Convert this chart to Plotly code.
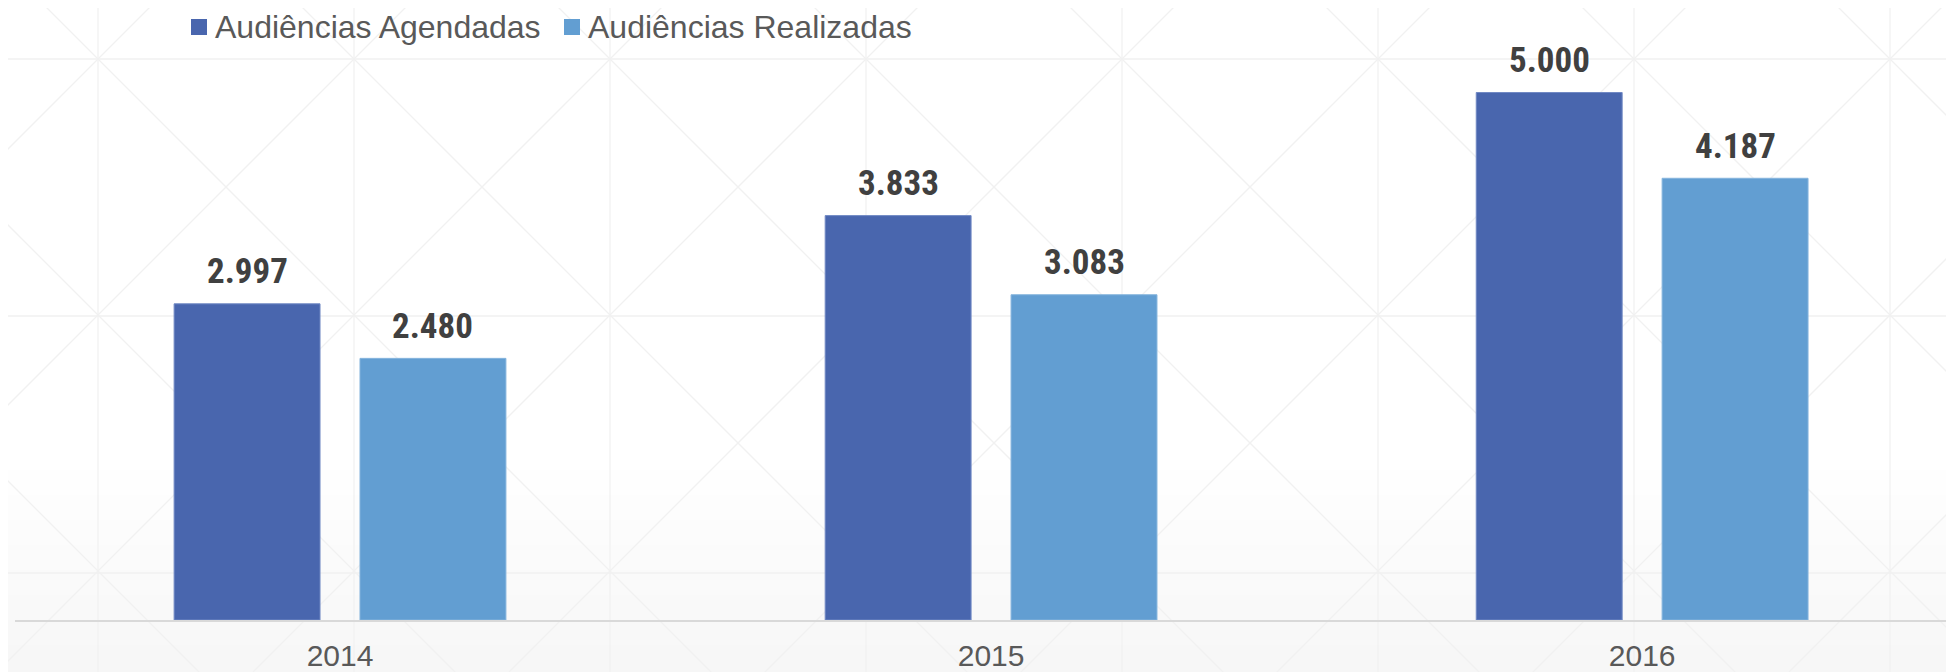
import plotly.graph_objects as go

years = ["2014", "2015", "2016"]
series_names = ["Audiências Agendadas", "Audiências Realizadas"]
agendadas = [2997, 3833, 5000]
realizadas = [2480, 3083, 4187]
labels_agendadas = ["2.997", "3.833", "5.000"]
labels_realizadas = ["2.480", "3.083", "4.187"]

C_AG = "#4966AE"
C_RE = "#629ED2"
OFF = 8                      # default page body margin
SW, SH = 1954, 672           # screen size
W, H = SW - OFF, SH - OFF    # figure size
L, B = 7, 52
PH = H - B                   # plot height (top margin 0)


def px_to_paper_x(sx):
    return (sx - OFF - L) / (W - L)


def px_to_paper_y(sy):
    return (PH - (sy - OFF)) / PH


fig = go.Figure()
fig.add_trace(go.Bar(name=series_names[0], x=years, y=agendadas,
                     marker=dict(color=C_AG, line=dict(color="#7189c4", width=1)),
                     hoverinfo="skip", showlegend=False))
fig.add_trace(go.Bar(name=series_names[1], x=years, y=realizadas,
                     marker=dict(color=C_RE, line=dict(color="#85b4dd", width=1)),
                     hoverinfo="skip", showlegend=False))

# value labels above bars
ann = []
slot = 0.2855
label_font = dict(family="Roboto Condensed, Liberation Sans Narrow, Arial Narrow, Liberation Sans, sans-serif",
                  size=35, color="#404040", weight="bold")
for i, yv in enumerate(years):
    for vals, labs, sgn in ((agendadas, labels_agendadas, -1), (realizadas, labels_realizadas, 1)):
        ann.append(dict(x=i + sgn * slot / 2, y=vals[i], xref="x", yref="y", text=labs[i],
                        showarrow=False, yanchor="middle", yshift=32, font=label_font))

shapes = []
# legend (drawn manually to match the square markers)
leg_items = [(191, 215, C_AG, series_names[0]), (564, 588, C_RE, series_names[1])]
for sx, tx, col, name in leg_items:
    shapes.append(dict(type="rect", xref="paper", yref="paper",
                       x0=px_to_paper_x(sx), x1=px_to_paper_x(sx + 16),
                       y0=px_to_paper_y(35), y1=px_to_paper_y(19),
                       fillcolor=col, line=dict(width=0), layer="above"))
    ann.append(dict(x=px_to_paper_x(tx - 2), y=px_to_paper_y(27), xref="paper", yref="paper",
                    text=name, showarrow=False, xanchor="left", yanchor="middle",
                    font=dict(family="Liberation Sans, Arial, sans-serif", size=32, color="#595959")))

# faint background texture (decorative)
gx0, gy0, step = 98, 59, 256
bg_line = dict(color="#f1f1f1", width=1.3)
for y0 in range(470, SH, 25):
    shapes.append(dict(type="rect", xref="paper", yref="paper", x0=px_to_paper_x(0), x1=px_to_paper_x(SW),
                       y0=px_to_paper_y(SH), y1=px_to_paper_y(y0),
                       fillcolor="rgba(0,0,0,0.0035)", line=dict(width=0), layer="below"))
for k in range(8):
    x = gx0 + step * k
    shapes.append(dict(type="line", xref="paper", yref="paper", x0=px_to_paper_x(x), x1=px_to_paper_x(x),
                       y0=px_to_paper_y(SH), y1=px_to_paper_y(OFF), line=bg_line, layer="below"))
for j in range(3):
    y = gy0 + 257 * j
    shapes.append(dict(type="line", xref="paper", yref="paper", x0=px_to_paper_x(OFF), x1=px_to_paper_x(SW),
                       y0=px_to_paper_y(y), y1=px_to_paper_y(y), line=bg_line, layer="below"))
for k in range(-4, 12):
    c1 = (gx0 - gy0) + step * k
    shapes.append(dict(type="line", xref="paper", yref="paper",
                       x0=px_to_paper_x(c1), y0=px_to_paper_y(0),
                       x1=px_to_paper_x(c1 + SH), y1=px_to_paper_y(SH), line=bg_line, layer="below"))
    c2 = (gx0 + gy0) + step * k
    shapes.append(dict(type="line", xref="paper", yref="paper",
                       x0=px_to_paper_x(c2), y0=px_to_paper_y(0),
                       x1=px_to_paper_x(c2 - SH), y1=px_to_paper_y(SH), line=bg_line, layer="below"))

fig.update_layout(
    width=W, height=H,
    margin=dict(l=L, r=0, t=0, b=B, autoexpand=False),
    paper_bgcolor="white", plot_bgcolor="rgba(0,0,0,0)",
    barmode="group", bargap=0.429, bargroupgap=0.215,
    font=dict(family="Liberation Sans, Arial, sans-serif", color="#595959"),
    showlegend=False,
    xaxis=dict(range=[-0.4992, 2.479], showgrid=False, showline=True, linecolor="#d9d9d9", linewidth=2,
               ticks="", tickfont=dict(size=30, color="#595959"), ticklabelstandoff=8,
               zeroline=False, fixedrange=True, automargin=False),
    yaxis=dict(range=[0, 5801], visible=False, showgrid=False, zeroline=False, fixedrange=True,
               automargin=False),
    annotations=ann,
    shapes=shapes,
)

fig.write_html("out.html")
